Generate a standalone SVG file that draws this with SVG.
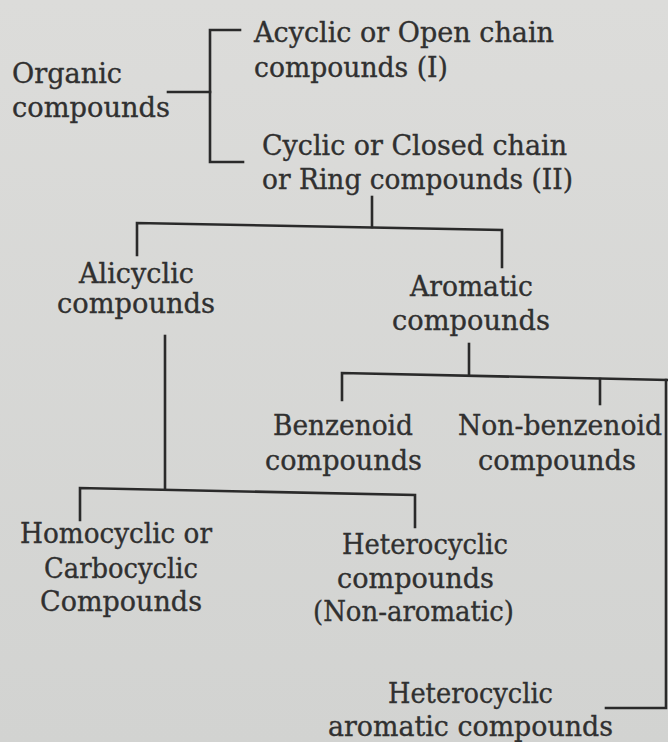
<svg xmlns="http://www.w3.org/2000/svg" width="668" height="742" viewBox="0 0 668 742">
<defs>
<linearGradient id="bg" x1="0" y1="0" x2="0" y2="1">
<stop offset="0" stop-color="#dcdcda"/>
<stop offset="1" stop-color="#d2d3d1"/>
</linearGradient>
</defs>
<style>
text{font-family:"DejaVu Serif","Liberation Serif",serif;font-size:27px;fill:#303030;stroke:#303030;stroke-width:0.35;}
.c line,.c polyline{stroke:#2a2a2a;stroke-width:2.6;fill:none;stroke-linecap:square;}
</style>
<rect width="668" height="742" fill="url(#bg)"/>
<g class="c" id="connectors">
<line x1="168" y1="92" x2="210" y2="92"/>
<polyline points="240,30 210,30 210,162 243,162"/>
<line x1="372" y1="197" x2="372" y2="227"/>
<polyline points="137,255 137,223 502,230 502,267"/>
<line x1="165" y1="336" x2="165" y2="489"/>
<polyline points="80,520 80,488 415,495 415,527"/>
<line x1="469" y1="344" x2="469" y2="375"/>
<polyline points="342,400 342,373 668,380"/>
<line x1="600" y1="379" x2="600" y2="404"/>
<polyline points="666,380 666,708 606,708"/>
</g>
<g id="organic">
<text x="12" y="83" textLength="110" lengthAdjust="spacingAndGlyphs">Organic</text>
<text x="12" y="117" textLength="158" lengthAdjust="spacingAndGlyphs">compounds</text>
</g>
<g id="acyclic">
<text x="254" y="42" textLength="300" lengthAdjust="spacingAndGlyphs">Acyclic or Open chain</text>
<text x="254" y="77" textLength="194" lengthAdjust="spacingAndGlyphs">compounds (I)</text>
</g>
<g id="cyclic">
<text x="262" y="155" textLength="305" lengthAdjust="spacingAndGlyphs">Cyclic or Closed chain</text>
<text x="262" y="189" textLength="311" lengthAdjust="spacingAndGlyphs">or Ring compounds (II)</text>
</g>
<g id="alicyclic">
<text x="79" y="283" textLength="115" lengthAdjust="spacingAndGlyphs">Alicyclic</text>
<text x="57" y="313" textLength="158" lengthAdjust="spacingAndGlyphs">compounds</text>
</g>
<g id="aromatic">
<text x="410" y="296" textLength="123" lengthAdjust="spacingAndGlyphs">Aromatic</text>
<text x="392" y="330" textLength="158" lengthAdjust="spacingAndGlyphs">compounds</text>
</g>
<g id="benzenoid">
<text x="273" y="435" textLength="140" lengthAdjust="spacingAndGlyphs">Benzenoid</text>
<text x="265" y="470" textLength="157" lengthAdjust="spacingAndGlyphs">compounds</text>
</g>
<g id="nonbenzenoid">
<text x="458" y="435" textLength="204" lengthAdjust="spacingAndGlyphs">Non-benzenoid</text>
<text x="478" y="470" textLength="158" lengthAdjust="spacingAndGlyphs">compounds</text>
</g>
<g id="homocyclic">
<text x="20" y="543" textLength="192" lengthAdjust="spacingAndGlyphs">Homocyclic or</text>
<text x="44" y="578" textLength="154" lengthAdjust="spacingAndGlyphs">Carbocyclic</text>
<text x="40" y="611" textLength="162" lengthAdjust="spacingAndGlyphs">Compounds</text>
</g>
<g id="heterocyclic-nonaromatic">
<text x="342" y="554" textLength="166" lengthAdjust="spacingAndGlyphs">Heterocyclic</text>
<text x="337" y="588" textLength="157" lengthAdjust="spacingAndGlyphs">compounds</text>
<text x="313" y="621" textLength="201" lengthAdjust="spacingAndGlyphs">(Non-aromatic)</text>
</g>
<g id="heterocyclic-aromatic">
<text x="388" y="703" textLength="165" lengthAdjust="spacingAndGlyphs">Heterocyclic</text>
<text x="328" y="736" textLength="285" lengthAdjust="spacingAndGlyphs">aromatic compounds</text>
</g>
</svg>
